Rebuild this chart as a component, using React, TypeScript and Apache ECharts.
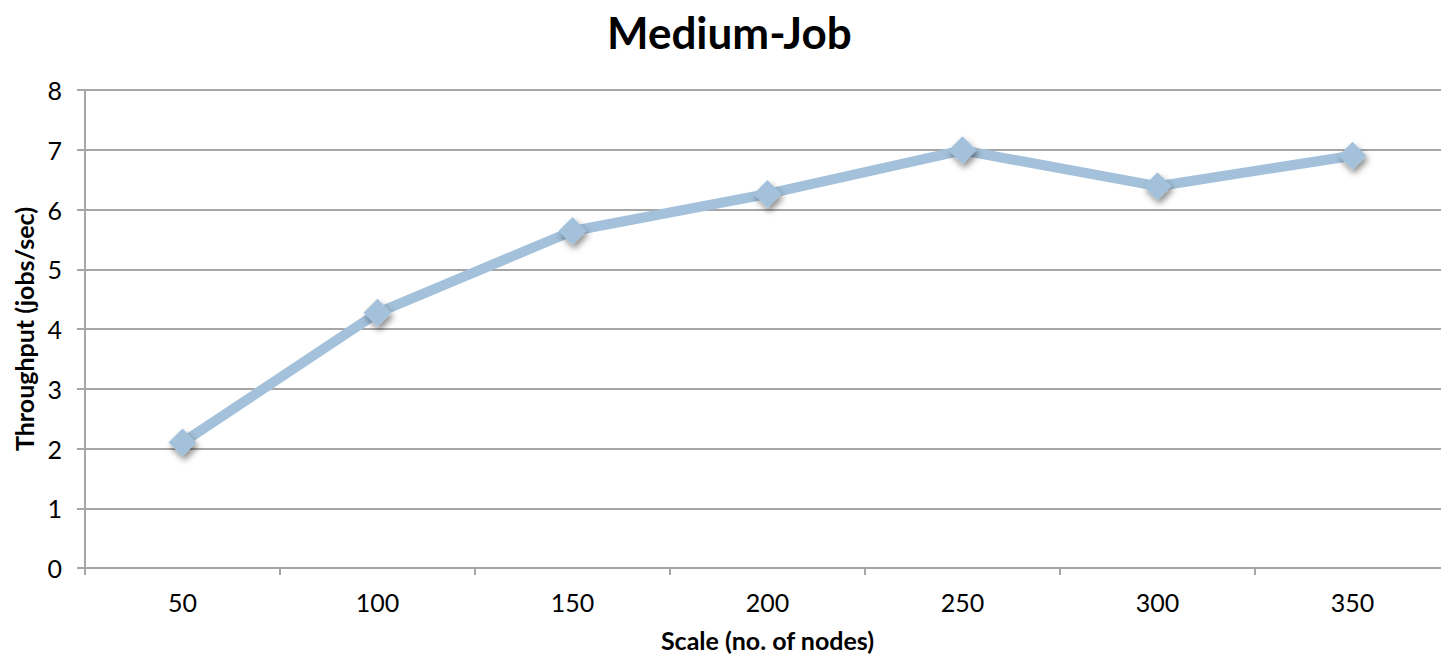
import React, { useEffect, useRef } from "react";
import * as echarts from "echarts";

// Cluster size (number of nodes) on the category axis
const scales: string[] = ["50", "100", "150", "200", "250", "300", "350"];
// Measured throughput for the medium-sized job, in jobs per second
const throughput: number[] = [2.1, 4.27, 5.64, 6.26, 6.99, 6.39, 6.9];

const FONT = "Lato, 'Noto Sans', sans-serif";
const AXIS_GREY = "#a6a6a6";
const LINE_BLUE = "#a3c1da";

export default function App() {
  const ref = useRef<HTMLDivElement>(null);

  useEffect(() => {
    if (!ref.current) return;
    const chart = echarts.init(ref.current, null, { renderer: "svg" });
    chart.setOption({
      animation: false,
      backgroundColor: "#ffffff",
      title: {
        text: "Medium-Job",
        left: 602,
        top: 5,
        textStyle: {
          fontFamily: FONT,
          fontSize: 44,
          fontWeight: "bold",
          color: "#000000",
        },
      },
      // the plot runs slightly past the right edge of the page
      grid: {
        left: 85,
        top: 90,
        bottom: 87,
        width: 1365,
        containLabel: false,
        outerBoundsMode: "none",
      },
      xAxis: {
        type: "category",
        data: scales,
        boundaryGap: true,
        name: "Scale (no. of nodes)",
        nameLocation: "middle",
        nameGap: 59,
        nameTextStyle: {
          fontFamily: FONT,
          fontSize: 25,
          fontWeight: "bold",
          color: "#000000",
          verticalAlign: "top",
        },
        axisLine: { show: true, lineStyle: { color: AXIS_GREY, width: 2 } },
        axisTick: { show: true, length: 7, lineStyle: { color: AXIS_GREY, width: 2 } },
        axisLabel: {
          margin: 21,
          fontFamily: FONT,
          fontSize: 25,
          color: "#000000",
        },
        splitLine: { show: false },
      },
      yAxis: {
        type: "value",
        min: 0,
        max: 8,
        interval: 1,
        name: "Throughput (jobs/sec)",
        nameLocation: "middle",
        nameGap: 46,
        nameRotate: 90,
        nameTextStyle: {
          fontFamily: FONT,
          fontSize: 25,
          fontWeight: "bold",
          color: "#000000",
        },
        axisLine: { show: true, lineStyle: { color: AXIS_GREY, width: 2 } },
        axisTick: { show: true, length: 8, lineStyle: { color: AXIS_GREY, width: 2 } },
        axisLabel: {
          margin: 23,
          fontFamily: FONT,
          fontSize: 25,
          color: "#000000",
        },
        splitLine: { show: true, lineStyle: { color: AXIS_GREY, width: 2 } },
      },
      series: [
        {
          type: "line",
          data: throughput,
          symbol: "diamond",
          symbolSize: [28, 28],
          lineStyle: { color: LINE_BLUE, width: 10 },
          itemStyle: {
            color: LINE_BLUE,
            shadowColor: "rgba(0,0,0,0.45)",
            shadowBlur: 6,
            shadowOffsetX: 2,
            shadowOffsetY: 4,
          },
          z: 3,
        },
      ],
    });
    return () => chart.dispose();
  }, []);

  return (
    <div
      ref={ref}
      style={{ position: "fixed", left: 0, top: 0, width: 1441, height: 655, background: "#fff" }}
    />
  );
}
